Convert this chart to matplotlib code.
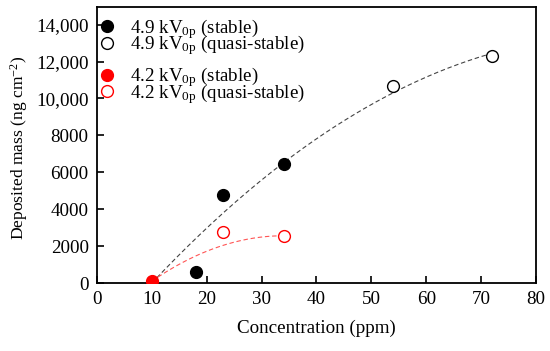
import numpy as np
import matplotlib
matplotlib.use("Agg")
import matplotlib.pyplot as plt
from matplotlib.lines import Line2D

plt.rcParams['font.family'] = ['Liberation Serif', 'DejaVu Serif']
plt.rcParams['mathtext.fontset'] = 'custom'
plt.rcParams['mathtext.rm'] = 'Liberation Serif'
plt.rcParams['mathtext.it'] = 'Liberation Serif:italic'

# Data
x_49_stable = [10, 18, 23, 34]
y_49_stable = [0, 580, 4750, 6430]
x_49_quasi = [54, 72]
y_49_quasi = [10650, 12280]
x_42_stable = [10]
y_42_stable = [100]
x_42_quasi = [23, 34]
y_42_quasi = [2780, 2560]

xticks = [0, 10, 20, 30, 40, 50, 60, 70, 80]
yticks = [0, 2000, 4000, 6000, 8000, 10000, 12000, 14000]
ytick_labels = ['0', '2000', '4000', '6000', '8000', '10,000', '12,000', '14,000']

FS = 13.7
fig = plt.figure(figsize=(5.5, 3.51), dpi=100)
ax = fig.add_axes([0.1764, 0.1937, 0.7981, 0.786])

# trend curve, 4.9 kV: quadratic least-squares fit anchored at first point
bx = np.array(x_49_stable + x_49_quasi, float)
by = np.array(y_49_stable + y_49_quasi, float)
t = bx - bx[0]
A = np.vstack([t, t**2]).T
(cb1, cb2), *_ = np.linalg.lstsq(A, by - by[0], rcond=None)
xb = np.linspace(bx.min(), bx.max(), 200)
tb = xb - bx[0]
ax.plot(xb, by[0] + cb1 * tb + cb2 * tb**2, ls=(0, (4, 2.5)), color='#444444', lw=0.8, zorder=2)

# trend curve, 4.2 kV: quadratic from first point levelling off at last point
rx = np.array(x_42_stable + x_42_quasi, float)
ry = np.array(y_42_stable + y_42_quasi, float)
c = (ry[-1] - ry[0]) / (rx[-1] - rx[0])**2
xr = np.linspace(rx.min(), rx.max(), 200)
ax.plot(xr, ry[-1] - c * (rx[-1] - xr)**2, ls=(0, (4, 2.5)), color='#ff5555', lw=0.8, zorder=2)

ms = 8.5
ax.plot(x_49_stable, y_49_stable, 'o', color='black', ms=ms, ls='none', zorder=3)
ax.plot(x_49_quasi, y_49_quasi, 'o', mfc='white', mec='black', mew=1.0, ms=ms, ls='none', zorder=3)
ax.plot(x_42_stable, y_42_stable, 'o', color='red', ms=ms, ls='none', zorder=4)
ax.plot(x_42_quasi, y_42_quasi, 'o', mfc='white', mec='red', mew=1.0, ms=ms, ls='none', zorder=3)

h1 = [Line2D([], [], marker='o', color='black', ls='none', ms=ms),
      Line2D([], [], marker='o', mfc='white', mec='black', mew=1.0, ls='none', ms=ms)]
l1 = [r'4.9 kV$_{\mathrm{0p}}$ (stable)', r'4.9 kV$_{\mathrm{0p}}$ (quasi-stable)']
h2 = [Line2D([], [], marker='o', color='red', ls='none', ms=ms),
      Line2D([], [], marker='o', mfc='white', mec='red', mew=1.0, ls='none', ms=ms)]
l2 = [r'4.2 kV$_{\mathrm{0p}}$ (stable)', r'4.2 kV$_{\mathrm{0p}}$ (quasi-stable)']
kw = dict(loc='upper left', frameon=False, fontsize=FS, handlelength=1.0, handletextpad=0.75,
          labelspacing=-0.38, borderaxespad=0.0, borderpad=0.0)
leg1 = ax.legend(h1, l1, bbox_to_anchor=(0.0, 0.965), **kw)
ax.add_artist(leg1)
ax.legend(h2, l2, bbox_to_anchor=(0.0, 0.79), **kw)

ax.set_xlim(0, 80)
ax.set_ylim(0, 14950)
ax.set_xticks(xticks)
ax.set_yticks(yticks)
ax.set_yticklabels(ytick_labels)
ax.tick_params(direction='in', length=5, width=1.2, labelsize=FS, top=False, right=False, pad=6)
for s in ax.spines.values():
    s.set_linewidth(1.3)
ax.set_xlabel('Concentration (ppm)', fontsize=FS, labelpad=8)
ax.set_ylabel(r'Deposited mass (ng cm$^{-2}$)', fontsize=12.6, labelpad=7)
ax.yaxis.set_label_coords(-0.152, 0.49)

fig.savefig('out.png', dpi=100)
